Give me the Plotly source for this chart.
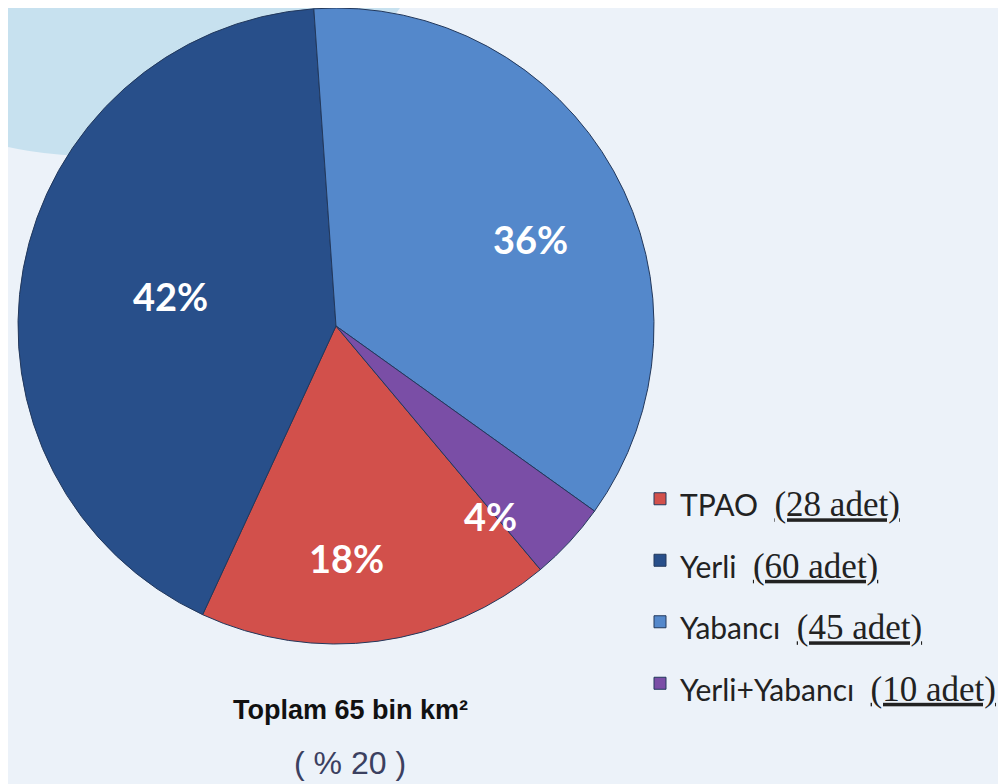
import math
import plotly.graph_objects as go

# pay verileri (% alan) ve saha adetleri
groups = ["TPAO", "Yerli", "Yabancı", "Yerli+Yabancı"]
shares = [18, 42, 36, 4]
counts = [28, 60, 45, 10]
colors = ["#d2504b", "#284f8a", "#5488cb", "#7a4ea6"]

total_text = "Toplam 65 bin km²"
ratio_text = "( % 20 )"

W, H = 1006, 784
# pasta merkezi ve yaricapi (px, figur koordinati)
CX, CY, R = 328, 318, 318
ROT = 140
label_r = [0.73, 0.53, 0.67, 0.77]   # etiketlerin merkezden uzakligi
label_da = [5, 0, 5, 8]              # etiket aci kaydirmasi (derece)

legend_labels = [
    '<span style="font-size:30px">%s </span>'
    '<span style="font-family:Liberation Serif;font-size:35px"> <u>(%d adet)</u></span>' % (g, c)
    for g, c in zip(groups, counts)
]

fig = go.Figure(go.Pie(
    labels=legend_labels,
    values=shares,
    sort=False,
    direction="clockwise",
    rotation=ROT,
    marker=dict(colors=colors, line=dict(color="#22385c", width=1)),
    textinfo="none",
    domain=dict(x=[(CX - R) / W, (CX + R) / W], y=[1 - (CY + R) / H, 1]),
    hoverinfo="label+percent",
))

# yuzde etiketleri: dilim orta acisindan hesaplanir
total = sum(shares)
start = ROT
for v, f, da in zip(shares, label_r, label_da):
    span = 360 * v / total
    mid = math.radians(start + span / 2 + da)
    start += span
    px = CX + R * f * math.sin(mid)
    py = CY - R * f * math.cos(mid)
    fig.add_annotation(text="<b>%d%%</b>" % v, xref="paper", yref="paper",
                       x=px / W, y=1 - py / H, xanchor="center", yanchor="middle",
                       showarrow=False,
                       font=dict(family="Lato", size=38, color="white"))

# acik mavi arka plan lekesi (sol ust)
fig.add_shape(type="circle", xref="paper", yref="paper", layer="below",
              x0=-258 / W, x1=432 / W,
              y0=1 - 148 / H, y1=1 + 408 / H,
              fillcolor="#c7e1ef", line=dict(width=0))

fig.add_annotation(text="<b>%s</b>" % total_text, xref="paper", yref="paper",
                   x=342 / W, y=1 - 702 / H, xanchor="center", yanchor="middle",
                   showarrow=False,
                   font=dict(family="Liberation Sans", size=27, color="#111111"))
fig.add_annotation(text=ratio_text, xref="paper", yref="paper",
                   x=342 / W, y=1 - 755 / H, xanchor="center", yanchor="middle",
                   showarrow=False,
                   font=dict(family="Liberation Sans", size=32, color="#3b4060"))

fig.update_layout(
    width=W, height=H,
    margin=dict(l=0, r=0, t=0, b=0),
    paper_bgcolor="#ecf2f9",
    plot_bgcolor="#ecf2f9",
    showlegend=True,
    legend=dict(
        x=632 / W, y=1 - 455 / H, xanchor="left", yanchor="top",
        font=dict(family="Lato", size=45, color="#222222"),
        bgcolor="rgba(0,0,0,0)",
    ),
)

fig.write_html("out.html")
